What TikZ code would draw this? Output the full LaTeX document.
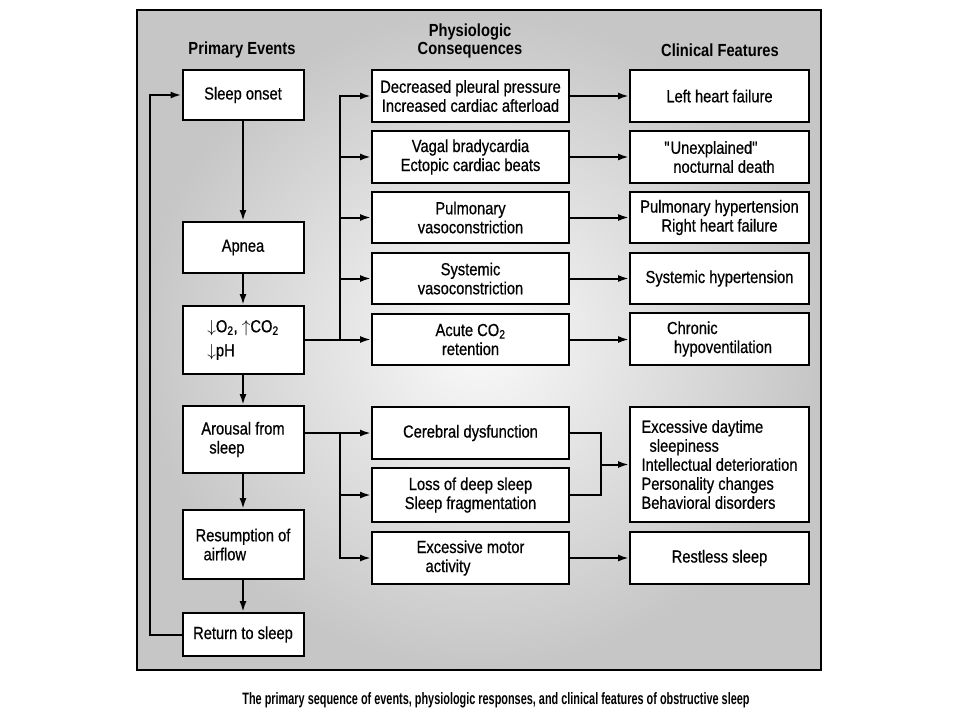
\documentclass[tikz,border=0pt]{standalone}
\usepackage{fontspec}
\setmainfont{Liberation Sans}
\newfontfamily\boxfont{Liberation Sans}[FakeBold=0.6, FakeStretch=0.84]
\newfontfamily\headfont{Liberation Sans}[FakeStretch=0.84]
\newfontfamily\capfont{Liberation Sans}[FakeStretch=0.66]
\usepackage{tikz}
\usetikzlibrary{shapes, calc, arrows.meta, shadows}

\begin{document}
\begin{tikzpicture}[x=1pt, y=-1pt,
	>={Latex[length=11pt, width=7pt]},
	every node/.style={font=\boxfont\fontsize{17.5}{19}\selectfont},
	head/.style={font=\headfont\fontsize{17.5}{18}\selectfont\bfseries, align=center},
	event/.style={draw, rectangle, fill=white, line width=2pt, inner sep=0pt,
		align=center, minimum height=52pt,
		drop shadow={shadow xshift=1.4pt, shadow yshift=-1.4pt, opacity=0.75, fill=black}},
	lbox/.style={event, minimum width=121pt},
	mbox/.style={event, minimum width=197pt},
	rbox/.style={event, minimum width=179pt},
	link/.style={->, line width=2pt}]
	\def \lx {243}
	\def \mx {470.5}
	\def \rx {719.5}

	\fill[white] (0,0) rectangle (960,720);
	\useasboundingbox (0,0) rectangle (960,720);
	\draw[line width=2pt, inner color=gray!4, outer color=gray!45]
		(137,10) rectangle (821,670);

	% column heads
	\node[head] (evhead)   at (242,50) {Primary Events};
	\node[head] (conhead)  at (470,41) {Physiologic\\Consequences};
	\node[head] (feathead) at (720,50) {Clinical Features};

	% primary events
	\node[lbox, minimum height=50pt] (onset) at (\lx,95) {Sleep onset};
	\node[lbox, minimum height=51pt] (apnea) at (\lx,247.5) {Apnea};
	\node[lbox, minimum height=68pt, align=left] (gases) at (\lx,340)
		{$\downarrow$O\textsubscript{2}, $\uparrow$CO\textsubscript{2}\\[5pt]$\downarrow$pH};
	\node[lbox, minimum height=67pt, align=left] (arousal) at (\lx,439.5)
		{Arousal from\\\hspace*{8pt}sleep};
	\node[lbox, minimum height=69pt, align=left] (resume) at (\lx,544.5)
		{Resumption of\\\hspace*{8pt}airflow};
	\node[lbox, minimum height=43pt] (back) at (\lx,634.5) {Return to sleep};

	% physiologic consequences
	\node[mbox] (pleural) at (\mx,96)
		{Decreased pleural pressure\\Increased cardiac afterload};
	\node[mbox] (vagal) at (\mx,157)
		{Vagal bradycardia\\Ectopic cardiac beats};
	\node[mbox, minimum height=51pt] (pulmvaso) at (\mx,217.5)
		{Pulmonary\\vasoconstriction};
	\node[mbox, minimum height=51pt] (sysvaso) at (\mx,278.5)
		{Systemic\\vasoconstriction};
	\node[mbox, minimum height=51pt] (retain) at (\mx,339.5)
		{Acute CO\textsubscript{2}\\retention};
	\node[mbox] (cerebral) at (\mx,433) {Cerebral dysfunction};
	\node[mbox, minimum height=54pt] (deepsleep) at (\mx,495)
		{Loss of deep sleep\\Sleep fragmentation};
	\node[mbox, align=left] (motor) at (\mx,558)
		{Excessive motor\\\hspace*{9pt}activity};

	% clinical features
	\node[rbox] (leftfail) at (\rx,96) {Left heart failure};
	\node[rbox, align=left] (death) at (\rx,157)
		{\textquotedbl Unexplained\textquotedbl\\\hspace*{9pt}nocturnal death};
	\node[rbox, minimum height=51pt] (pulmhyp) at (\rx,217.5)
		{Pulmonary hypertension\\Right heart failure};
	\node[rbox, minimum height=51pt] (syshyp) at (\rx,278.5)
		{Systemic hypertension};
	\node[rbox, align=left] (hypovent) at (\rx,339)
		{Chronic\\\hspace*{7pt}hypoventilation};
	\node[rbox, minimum height=115pt, align=left] (daytime) at (\rx,464.5)
		{Excessive daytime\\\hspace*{8pt}sleepiness\\Intellectual deterioration\\
		Personality changes\\Behavioral disorders};
	\node[rbox] (restless) at (\rx,558) {Restless sleep};

	% main sequence and loop back
	\draw[link] (onset) -- (apnea);
	\draw[link] (apnea) -- (gases);
	\draw[link] (gases) -- (arousal);
	\draw[link] (arousal) -- (resume);
	\draw[link] (resume) -- (back);
	\draw[link] (back.west) -- ++(-32,0) |- (onset.west);

	% upper branches
	\coordinate (upbus) at (340,0);
	\draw[link] (gases.east |- retain.west) -- (retain.west);
	\draw[link] (upbus |- retain.west) |- (pleural.west);
	\draw[link] (upbus |- vagal.west) -- (vagal.west);
	\draw[link] (upbus |- pulmvaso.west) -- (pulmvaso.west);
	\draw[link] (upbus |- sysvaso.west) -- (sysvaso.west);

	\draw[link] (pleural) -- (leftfail);
	\draw[link] (vagal) -- (death);
	\draw[link] (pulmvaso) -- (pulmhyp);
	\draw[link] (sysvaso) -- (syshyp);
	\draw[link] (retain.east) -- (retain.east -| hypovent.west);

	% lower branches
	\coordinate (lowbus) at (340,0);
	\coordinate (merge) at (601,0);
	\draw[link] (arousal.east |- cerebral.west) -- (cerebral.west);
	\draw[link] (lowbus |- cerebral.west) |- (deepsleep.west);
	\draw[link] (lowbus |- cerebral.west) |- (motor.west);
	\draw[line width=2pt] (cerebral.east) -| (merge |- deepsleep.east) -- (deepsleep.east);
	\draw[link] (merge |- daytime.west) -- (daytime.west);
	\draw[link] (motor) -- (restless);

	\node[font=\capfont\fontsize{16.5}{18}\selectfont\bfseries] (caption) at (496,700)
		{The primary sequence of events, physiologic responses, and clinical features of obstructive sleep};
\end{tikzpicture}
\end{document}
